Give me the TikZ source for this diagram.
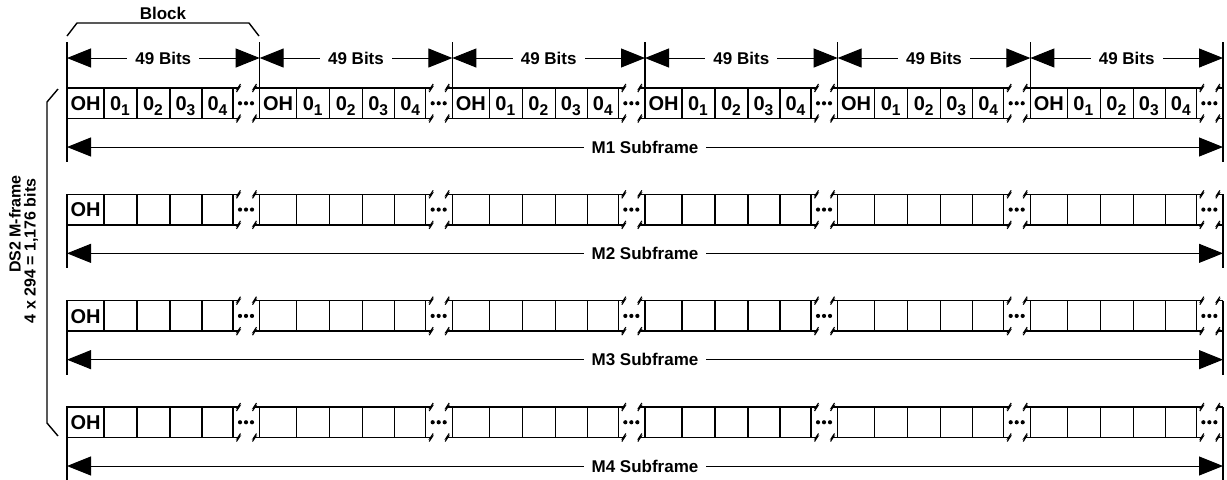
\documentclass[tikz,border=0pt]{standalone}
\usepackage{fontspec}
\setmainfont{Liberation Sans}
\usetikzlibrary{arrows.meta}
\newcommand{\bitsub}[1]{\raisebox{-2.6pt}{\fontsize{7.8}{9}\selectfont #1}}
\newcommand{\zbreak}[2]{\draw[brk,shift={(#1,#2)}] (2,-4) -- (-1,0.6) -- (1,-0.6) -- (-2,4);}

\begin{document}
\begin{tikzpicture}[x=0.5pt,y=-0.5pt]
    \tikzset{line/.style={draw,line width=0.7pt}}
    \tikzset{arrow/.style={draw,line width=0.5pt,{Triangle[length=12pt,width=9.5pt]}-{Triangle[length=12pt,width=9.5pt]}}}
    \tikzset{txt/.style={font=\bfseries\fontsize{8.5}{10}\selectfont,inner sep=0pt}}
    \tikzset{celltxt/.style={font=\bfseries\fontsize{10}{12}\selectfont,inner sep=0pt,anchor=base}}
    \tikzset{gap/.style={txt,fill=white,inner xsep=4pt,inner ysep=2pt}}
    \tikzset{brk/.style={draw,line width=0.55pt,line join=miter}}

    \useasboundingbox (0,0) rectangle (1227,479);

    % block bracket
    \draw[line] (67,36) -- (77,23) -- (249,23) -- (259,36);
    \node[txt] (blk) at (163,13) {Block};

    % M-frame bracket
    \draw[line] (58,89) -- (47,102) -- (47,423) -- (58,436);
    \node[txt,font=\bfseries\fontsize{8}{9}\selectfont,rotate=90] (mf1) at (15,224) {DS2 M-frame};
    \node[txt,font=\bfseries\fontsize{8}{9}\selectfont,rotate=90] (mf2) at (31,251) {4 x 294 = 1,176 bits};

    % 49 bit arrows
    \foreach \k in {0,...,6}
        \coordinate (b\k) at (67+192.67*\k,58);
    \foreach \k [count=\n] in {0,...,5}
        \draw[arrow] (b\k) -- node[gap] (bits\n) {49 Bits} (b\n);
    \foreach \k in {1,...,5}
        \draw[line] (67+192.67*\k,42) -- (67+192.67*\k,88);
    \draw[line] (67,42) -- (67,88) (1223,42) -- (1223,88);

    % subframes
    \foreach \r [count=\m] in {0,...,3} {
        \pgfmathsetmacro{\yt}{88+106.33*\r}
        \pgfmathsetmacro{\yb}{\yt+30.5}
        \pgfmathsetmacro{\ym}{\yt+15.25}
        \foreach \k in {0,...,5} {
            \pgfmathsetmacro{\bx}{67+192.67*\k}
            \draw[line] (\bx,\yt) rectangle (\bx+166,\yb);
            \foreach \c in {37,70,103,135}
                \draw[line] (\bx+\c,\yt) -- (\bx+\c,\yb);
            \draw[line] (\bx+166,\yt) -- (\bx+171.5,\yt) (\bx+187.5,\yt) -- (\bx+192.67,\yt)
                        (\bx+166,\yb) -- (\bx+171.5,\yb) (\bx+187.5,\yb) -- (\bx+192.67,\yb);
            \zbreak{\bx+171.5}{\yt}
            \zbreak{\bx+187.5}{\yt}
            \zbreak{\bx+171.5}{\yb}
            \zbreak{\bx+187.5}{\yb}
            \foreach \d in {173,179,185}
                \fill (\bx+\d,\ym) circle[radius=1.05pt];
        }
        \draw[line] (67,\yt) -- (67,\yt+74) (1223,\yt) -- (1223,\yt+74);
        \coordinate (sl\m) at (67,\yt+59);
        \coordinate (sr\m) at (1223,\yt+59);
        \draw[arrow] (sl\m) -- node[gap] (sub\m) {M\m\ Subframe} (sr\m);
    }

    % cell texts
    \foreach \k in {0,...,5} {
        \pgfmathsetmacro{\bx}{67+192.67*\k}
        \node[celltxt] (oh1-\k) at (\bx+18.5,110.4) {OH};
        \foreach \i/\c in {1/53,2/86,3/118.5,4/150.5}
            \node[celltxt] (d\k-\i) at (\bx+\c,110.4) {0\bitsub{\i}};
    }
    \foreach \r [count=\m from 2] in {1,2,3}
        \node[celltxt] (oh\m) at (85.5,88+106.33*\r+22.4) {OH};
\end{tikzpicture}
\end{document}
